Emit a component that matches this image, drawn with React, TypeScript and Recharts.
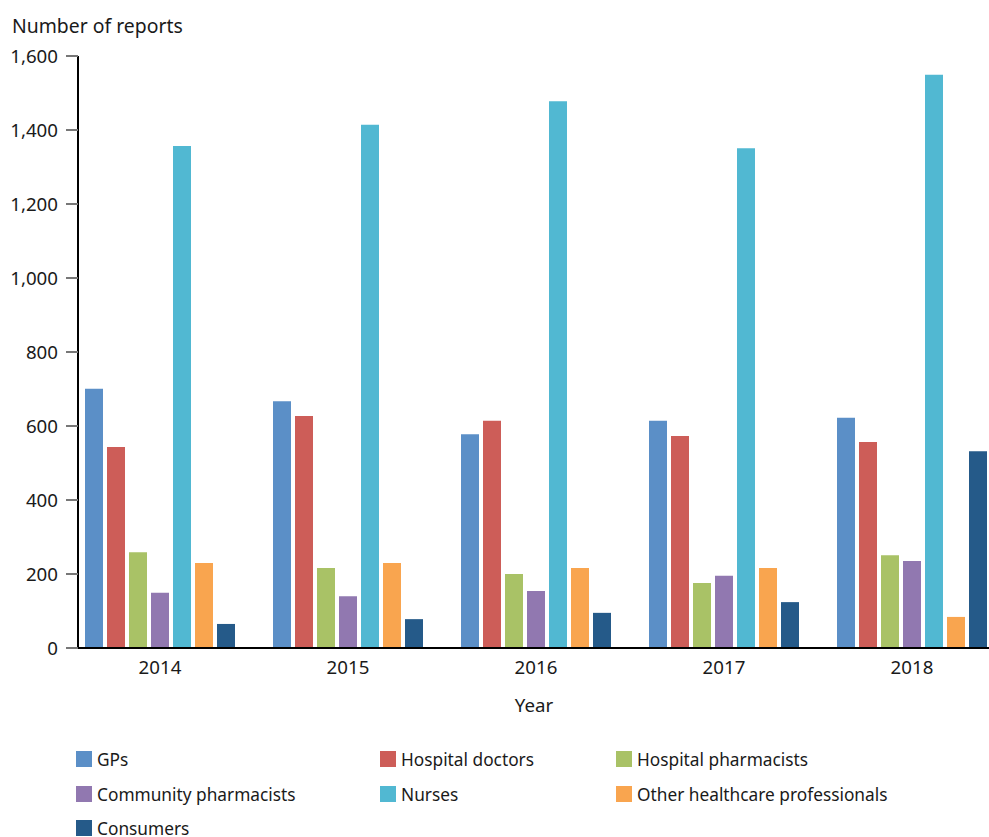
import React from 'react';
import { BarChart, Bar, XAxis, YAxis } from 'recharts';

const years = ['2014', '2015', '2016', '2017', '2018'];
const gps = [701, 667, 578, 614, 622];
const hospitalDoctors = [543, 627, 614, 573, 557];
const hospitalPharmacists = [259, 216, 200, 176, 251];
const communityPharmacists = [149, 140, 154, 195, 235];
const nurses = [1357, 1414, 1478, 1351, 1549];
const otherProfessionals = [230, 230, 216, 216, 84];
const consumers = [65, 78, 95, 124, 532];
const yTicks = [0, 200, 400, 600, 800, 1000, 1200, 1400, 1600];

const series = [
  { key: 'gps', name: 'GPs', color: '#5B8FC7', values: gps },
  { key: 'hd', name: 'Hospital doctors', color: '#CD5D58', values: hospitalDoctors },
  { key: 'hp', name: 'Hospital pharmacists', color: '#A9C266', values: hospitalPharmacists },
  { key: 'cp', name: 'Community pharmacists', color: '#9178B0', values: communityPharmacists },
  { key: 'nu', name: 'Nurses', color: '#51B8D2', values: nurses },
  { key: 'ot', name: 'Other healthcare professionals', color: '#F9A54F', values: otherProfessionals },
  { key: 'co', name: 'Consumers', color: '#255A89', values: consumers },
];

const data = years.map((y, i) => {
  const row: Record<string, string | number> = { year: y };
  series.forEach((s) => {
    row[s.key] = s.values[i];
  });
  return row;
});

const FONT = '"Noto Sans", "Open Sans", sans-serif';
const legendCols = [76, 380, 616];
const legendRows = [751, 786, 820];

export default function App() {
  return (
    <div
      style={{
        position: 'absolute',
        left: 0,
        top: 0,
        width: 989,
        height: 837,
        overflow: 'hidden',
        background: '#fff',
        fontFamily: FONT,
        color: '#1a1a1a',
      }}
    >
      <div style={{ position: 'absolute', left: 12, top: 14, fontSize: 19.4, lineHeight: '24px', whiteSpace: 'nowrap' }}>
        Number of reports
      </div>
      <div style={{ position: 'absolute', left: 0, top: 0 }}>
        <BarChart
          width={1010}
          height={717}
          data={data}
          margin={{ top: 56, right: 4, bottom: 0, left: 0 }}
          barCategoryGap={19}
          barGap={4}
        >
          <XAxis
            dataKey="year"
            padding={{ left: -12, right: 0 }}
            tickLine={false}
            tickSize={6}
            tickMargin={7}
            height={69}
            axisLine={{ stroke: '#000', strokeWidth: 2 }}
            tick={{ fill: '#1a1a1a', fontSize: 18.7, fontFamily: FONT }}
            label={{
              value: 'Year',
              position: 'insideBottom',
              offset: 5,
              dx: -8,
              fill: '#1a1a1a',
              fontSize: 18.7,
              fontFamily: FONT,
            }}
          />
          <YAxis
            width={78}
            domain={[0, 1600]}
            ticks={yTicks}
            interval={0}
            tickSize={12}
            tickMargin={8}
            tickFormatter={(v: number) => v.toLocaleString('en-US')}
            axisLine={{ stroke: '#000', strokeWidth: 2 }}
            tickLine={{ stroke: '#777', strokeWidth: 2 }}
            tick={{ fill: '#1a1a1a', fontSize: 18.7, fontFamily: FONT }}
          />
          {series.map((s) => (
            <Bar key={s.key} dataKey={s.key} name={s.name} fill={s.color} isAnimationActive={false} />
          ))}
        </BarChart>
      </div>
      {series.map((s, i) => {
        const col = i % 3;
        const row = Math.floor(i / 3);
        return (
          <div
            key={s.key}
            style={{
              position: 'absolute',
              left: legendCols[col],
              top: legendRows[row] - 4,
              display: 'flex',
              alignItems: 'center',
              height: 24,
              fontSize: 17.3,
              whiteSpace: 'nowrap',
            }}
          >
            <span style={{ display: 'inline-block', width: 16, height: 16, background: s.color, marginRight: 5 }} />
            <span>{s.name}</span>
          </div>
        );
      })}
    </div>
  );
}
